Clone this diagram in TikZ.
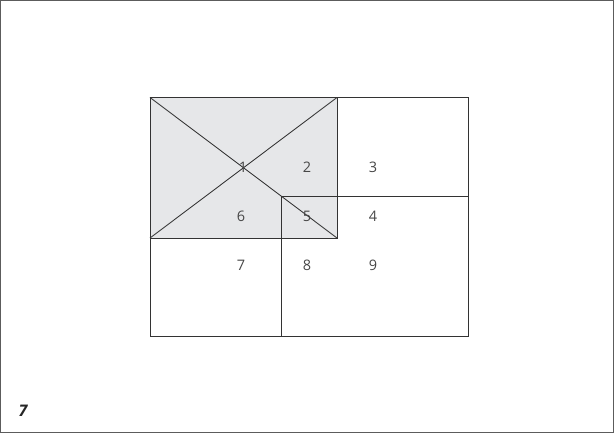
\documentclass[tikz,border=0pt]{standalone}
\usepackage{fontspec}
\setmainfont{Open Sans}
\definecolor{lightgrey}{HTML}{E6E7E9}
\definecolor{linegrey}{HTML}{333333}
\begin{document}
\begin{tikzpicture}[x=1pt,y=-1pt,
  frame/.style={draw=linegrey!80,line width=1pt},
  box/.style={draw=linegrey,line width=0.85pt},
  lbl/.style={font=\fontsize{14.5}{17}\selectfont,text=linegrey!90,inner sep=0pt,anchor=center},
  fig/.style={font=\fontsize{16}{18}\selectfont\bfseries\itshape,text=black!85,inner sep=0pt,anchor=center}]
\useasboundingbox (0,0) rectangle (614,433);
\draw[frame] (0.5,0.5) rectangle (613.5,432.5);
% grey rectangle
\fill[lightgrey] (150,97.5) rectangle (337,238);
% upper right rectangle
\draw[box] (337,97.5) -- (468,97.5) -- (468,196);
\draw[box] (150,97.5) rectangle (337,238);
\draw[box] (150,238) rectangle (281,336);
\draw[box] (281,196) rectangle (468,336);
\draw[box] (150,97.5) -- (337,238);
\draw[box] (150,238) -- (337,97.5);
\node[lbl] (n1) at (243,167) {1};
\node[lbl] (n2) at (307,167) {2};
\node[lbl] (n3) at (373,167) {3};
\node[lbl] (n6) at (241,216) {6};
\node[lbl] (n5) at (307,216) {5};
\node[lbl] (n4) at (373,216) {4};
\node[lbl] (n7) at (241,265) {7};
\node[lbl] (n8) at (307,265) {8};
\node[lbl] (n9) at (373,265) {9};
\node[fig] (fignum) at (23,411) {7};
\end{tikzpicture}
\end{document}
